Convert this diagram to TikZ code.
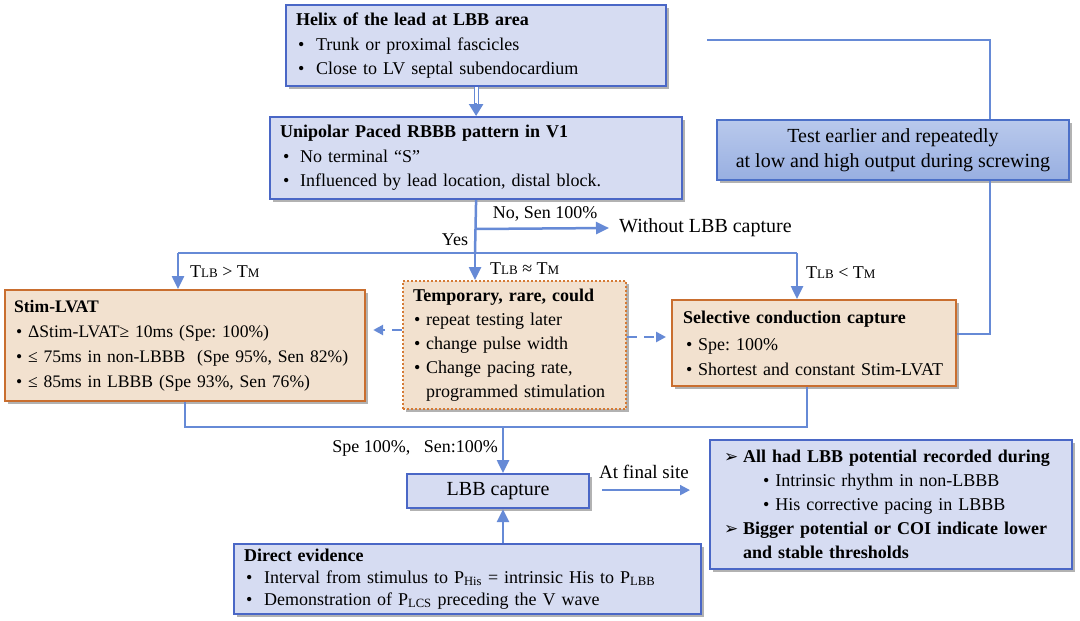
\documentclass[tikz,border=0pt]{standalone}
\usepackage{fontspec}
\setmainfont{Liberation Serif}
\newfontfamily\dejavu{DejaVu Sans}
\usetikzlibrary{arrows.meta,shadows,calc}
\definecolor{bfill}{HTML}{D6DCF2}
\definecolor{bdraw}{HTML}{4A67C6}
\definecolor{lnc}{HTML}{668AD6}
\definecolor{ofill}{HTML}{F2E1CF}
\definecolor{odraw}{HTML}{C96E2F}
\definecolor{odot}{HTML}{D57A35}
\definecolor{ttop}{HTML}{B9C9EC}
\definecolor{tbot}{HTML}{98AFE1}
\definecolor{tdraw}{HTML}{4C70C8}
\frenchspacing
\newcommand\bu[1]{\makebox[#1][l]{•}}
\newcommand\tsm[1]{{\fontsize{13}{13}\selectfont #1}}
\newcommand\arrmark{\makebox[19pt][l]{\dejavu\fontsize{17}{17}\selectfont ➢}}
\tikzset{
  shad/.style={drop shadow={shadow xshift=2.5pt, shadow yshift=-2.5pt, fill=black, opacity=0.3}},
  box/.style={draw=bdraw, fill=bfill, line width=2.2pt, anchor=north west, align=left,
    font=\fontsize{18}{24.5}\selectfont, inner ysep=0pt, shad},
  obox/.style={box, draw=odraw, fill=ofill},
  conn/.style={draw=lnc, line width=2.5pt},
  arr/.style={-{Triangle[length=13pt,width=12pt]}},
  sarr/.style={-{Triangle[length=10pt,width=10pt]}},
  dsh/.style={dash pattern=on 10pt off 7pt},
  lbl/.style={font=\fontsize{18}{22}\selectfont, inner sep=0pt},
}
\begin{document}
\begin{tikzpicture}[x=1pt,y=-1pt]
\fill[white] (0,0) rectangle (1080,621);
\useasboundingbox (0,0) rectangle (1080,621);

% boxes
\node[box, inner xsep=10pt, text width=360pt, minimum height=81pt] (helix) at (285,4)
 {\textbf{Helix of the lead at LBB area}\\
  \hspace*{2pt}\bu{18pt}Trunk or proximal fascicles\\
  \hspace*{2pt}\bu{18pt}Close to LV septal subendocardium};

\node[box, inner xsep=10pt, text width=392pt, minimum height=82pt] (unip) at (269,116)
 {\textbf{Unipolar Paced RBBB pattern in V1}\\
  \hspace*{3pt}\bu{17pt}No terminal “S”\\
  \hspace*{3pt}\bu{17pt}Influenced by lead location, distal block.};

\node[draw=tdraw, top color=ttop, bottom color=tbot, line width=2pt, minimum width=352pt,
  minimum height=60pt, anchor=north west, align=center, inner sep=0pt,
  font=\fontsize{20}{25}\selectfont, shad] (test) at (716,119)
 {Test earlier and repeatedly\\ at low and high output during screwing};

\node[obox, inner xsep=9pt, text width=342pt, minimum height=111pt,
  font=\fontsize{17.6}{25}\selectfont] (stim) at (4,289)
 {\textbf{Stim-LVAT}\\
  \hspace*{2pt}\bu{12pt}ΔStim-LVAT≥ 10ms (Spe: 100\%)\\
  \hspace*{2pt}\bu{12pt}≤ 75ms in non-LBBB\ \ (Spe 95\%, Sen 82\%)\\
  \hspace*{2pt}\bu{12pt}≤ 85ms in LBBB (Spe 93\%, Sen 76\%)};

\node[obox, draw=odot, dash pattern=on 2pt off 2pt, inner xsep=10pt, text width=203pt,
  minimum height=128pt, font=\fontsize{18}{24}\selectfont] (temp) at (402,280)
 {\textbf{Temporary, rare, could}\\
  \hspace*{1pt}\bu{12pt}repeat testing later\\
  \hspace*{1pt}\bu{12pt}change pulse width\\
  \hspace*{1pt}\bu{12pt}Change pacing rate,\\
  \hspace*{13pt}programmed stimulation};

\node[obox, inner xsep=11pt, text width=262pt, minimum height=86pt] (sel) at (671,299)
 {\textbf{Selective conduction capture}\\[3pt]
  \hspace*{3pt}\bu{12pt}Spe: 100\%\\
  \hspace*{3pt}\bu{12pt}Shortest and constant Stim-LVAT};

\node[box, align=center, inner sep=0pt, minimum width=182pt, minimum height=34pt,
  font=\fontsize{20}{24}\selectfont] (lbb) at (406,473) {LBB capture};

\node[box, inner xsep=10pt, text width=447pt, minimum height=70pt,
  font=\fontsize{18}{22}\selectfont] (direct) at (233,543)
 {\textbf{Direct evidence}\\
  \hspace*{2pt}\bu{18pt}Interval from stimulus to P\textsubscript{His} = intrinsic His to P\textsubscript{LBB}\\
  \hspace*{2pt}\bu{18pt}Demonstration of P\textsubscript{LCS} preceding the V wave};

\node[box, inner xsep=14pt, text width=334pt, minimum height=129pt,
  font=\fontsize{18}{24}\selectfont] (rbox) at (709,439)
 {\arrmark\textbf{All had LBB potential recorded during}\\
  \hspace*{39pt}• Intrinsic rhythm in non-LBBB\\
  \hspace*{39pt}• His corrective pacing in LBBB\\
  \arrmark\textbf{Bigger potential or COI indicate lower}\\
  \hspace*{19pt}\textbf{and stable thresholds}};

% labels
\node[lbl, anchor=west, font=\fontsize{20}{24}\selectfont] (without) at (619,228) {Without LBB capture};
\node[lbl] (nolbl) at (545,214) {No, Sen 100\%};
\node[lbl] (yeslbl) at (455,240) {Yes};
\node[lbl, anchor=west] (gtlbl) at (190,272) {T\tsm{LB} > T\tsm{M}};
\node[lbl, anchor=west] (aplbl) at (490,269) {T\tsm{LB} ≈ T\tsm{M}};
\node[lbl, anchor=west] (ltlbl) at (806,273) {T\tsm{LB} < T\tsm{M}};
\node[lbl, anchor=east] (spelbl) at (498,448) {Spe 100\%,\ \ \ Sen:100\%};
\node[lbl, font=\fontsize{19}{23}\selectfont] (finlbl) at (644,472) {At final site};

% coordinates
\coordinate (j1) at (475,229);
\coordinate (jh) at (475,253);
\coordinate (jl) at (178,253);
\coordinate (jr) at (797,253);
\coordinate (jbr) at (807,427);
\coordinate (jbm) at (503,427);
\coordinate (ts) at (707,40);
\coordinate (tr) at (990,40);
\coordinate (selr) at (990,334);
\coordinate (dl) at (0,330);
\coordinate (dr) at (0,337);

% connectors
\draw[draw=lnc, line width=1.1pt, double=white, double distance=3pt] (helix.south) -- ($(unip.north)+(0,-11)$);
\draw[conn, -{Triangle[length=12pt,width=14pt]}] ($(unip.north)+(0,-13)$) -- (unip.north);
\draw[conn] (unip.south) -- (jh);
\draw[conn, arr] (j1) -- ($(without.west)+(-10,0)$);
\draw[conn] (jl) -- (jr);
\draw[conn, arr] (jl) -- (jl |- stim.north);
\draw[conn, arr] (jh) -- (jh |- temp.north);
\draw[conn, arr] (jr) -- (jr |- sel.north);
\draw[conn, sarr, dsh, shorten >=7pt] (temp.west |- dl) -- (stim.east |- dl);
\draw[conn, sarr, dsh, shorten >=5pt] (temp.east |- dr) -- (sel.west |- dr);
\draw[conn] (stim.south) |- (jbr) -- (jbr |- sel.south);
\draw[conn, arr] (jbm) -- (jbm |- lbb.north);
\draw[conn, arr] (jbm |- direct.north) -- (jbm |- lbb.south);
\draw[conn, line width=2pt, sarr] ($(lbb.east)+(12,-1)$) -- ($(lbb.east -| rbox.west)+(-19,-1)$);
\draw[conn] (ts) -- (tr) -- (tr |- test.north);
\draw[conn] (tr |- test.south) -- (selr) -- (selr -| sel.east);
\end{tikzpicture}
\end{document}
